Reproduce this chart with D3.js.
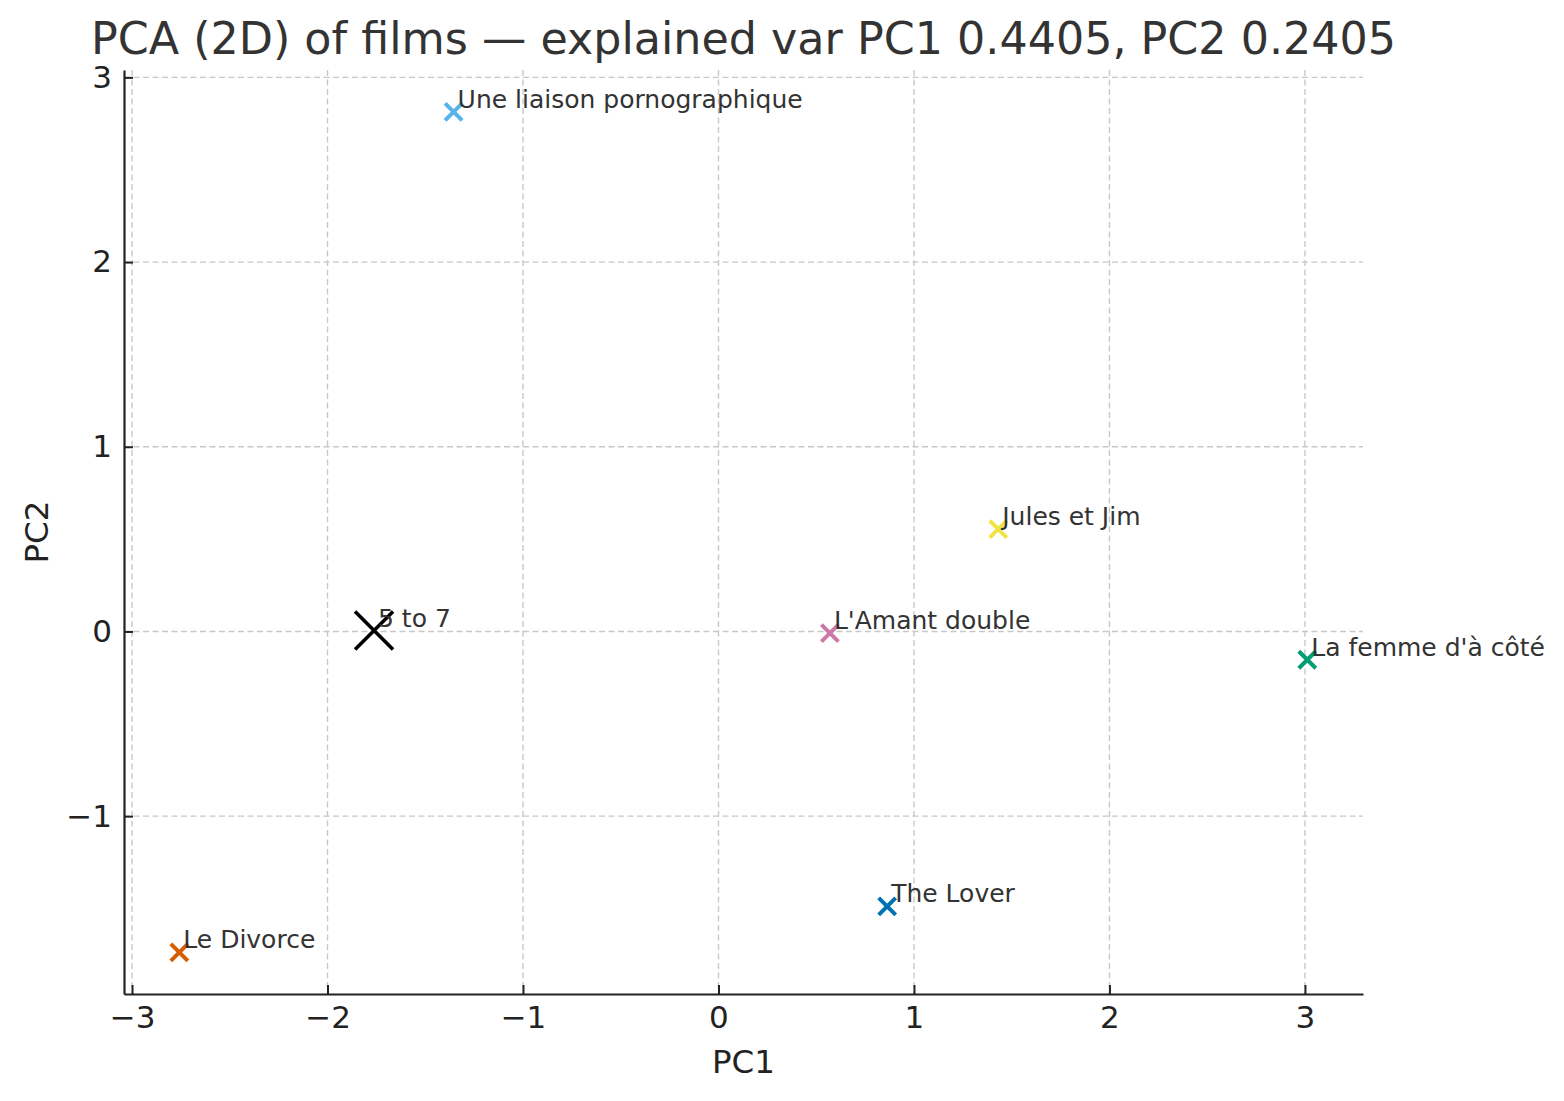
<!DOCTYPE html>
<html>
<head>
<meta charset="utf-8">
<script src="https://cdn.jsdelivr.net/npm/d3@7"></script>
<style>
  body { margin: 0; background: #fff; }
  text { font-family: "DejaVu Sans", sans-serif; }
</style>
</head>
<body>
<svg id="chart"></svg>
<script>
// film names and their PCA coordinates
var films = ["Une liaison pornographique", "Jules et Jim", "5 to 7", "L'Amant double", "La femme d'à côté", "The Lover", "Le Divorce"];
var pc1 = [-1.355, 1.431, -1.762, 0.570, 3.012, 0.863, -2.758];
var pc2 = [2.813, 0.554, 0.005, -0.009, -0.153, -1.489, -1.738];
var colors = ["#56B4E9", "#F0E442", "#000000", "#CC79A7", "#009E73", "#0072B2", "#D55E00"];
var highlighted = "5 to 7";
var xTicks = [-3, -2, -1, 0, 1, 2, 3];
var yTicks = [-1, 0, 1, 2, 3];
var title = "PCA (2D) of films — explained var PC1 0.4405, PC2 0.2405";

var W = 1564, H = 1101;
var margin = {top: 70, right: 201, bottom: 107, left: 124},
    width = W - margin.left - margin.right,
    height = H - margin.top - margin.bottom;

var svg = d3.select("#chart").attr("width", W).attr("height", H);
var g = svg.append("g").attr("transform", "translate(" + margin.left + "," + margin.top + ")");

var x = d3.scaleLinear().domain([-3.041, 3.297]).range([0, width]);
var y = d3.scaleLinear().domain([-1.963, 3.04]).range([height, 0]);

// grid
g.append("g").selectAll("line").data(xTicks).enter().append("line")
  .attr("x1", d => x(d)).attr("x2", d => x(d))
  .attr("y1", 0).attr("y2", height)
  .attr("stroke", "#c8c8c8").attr("stroke-width", 1.4).attr("stroke-dasharray", "6,3.5");
g.append("g").selectAll("line").data(yTicks).enter().append("line")
  .attr("y1", d => y(d)).attr("y2", d => y(d))
  .attr("x1", 0).attr("x2", width)
  .attr("stroke", "#c8c8c8").attr("stroke-width", 1.4).attr("stroke-dasharray", "6,3.5");

// axes (ticks pointing inward)
var fmt = d => d < 0 ? "\u2212" + Math.abs(d) : "" + d;
var xAxis = g.append("g").attr("transform", "translate(0," + height + ")")
  .call(d3.axisBottom(x).tickValues(xTicks).tickFormat(fmt).tickSize(-9).tickPadding(12).tickSizeOuter(0));
var yAxis = g.append("g")
  .call(d3.axisLeft(y).tickValues(yTicks).tickFormat(fmt).tickSize(-9).tickPadding(12).tickSizeOuter(0));
[xAxis, yAxis].forEach(function(a) {
  a.select(".domain").attr("stroke", "#222").attr("stroke-width", 2.2);
  a.selectAll(".tick line").attr("stroke", "#222").attr("stroke-width", 2);
  a.selectAll(".tick text").attr("fill", "#222").style("font-size", "31px").style("font-family", "DejaVu Sans");
});
xAxis.selectAll(".tick text").attr("dy", "0.71em");

// markers
var pts = films.map(function(f, i) { return {name: f, x: pc1[i], y: pc2[i], color: colors[i]}; });
var cross = function(s) { return "M" + (-s) + "," + (-s) + "L" + s + "," + s + "M" + (-s) + "," + s + "L" + s + "," + (-s); };

g.selectAll(".pt").data(pts).enter().append("path")
  .attr("class", "pt")
  .attr("transform", d => "translate(" + x(d.x) + "," + y(d.y) + ")")
  .attr("d", d => d.name === highlighted ? cross(19) : cross(8.5))
  .attr("fill", "none")
  .attr("stroke", d => d.color)
  .attr("stroke-width", d => d.name === highlighted ? 3.6 : 4);

g.selectAll(".lbl").data(pts).enter().append("text")
  .attr("class", "lbl")
  .attr("x", d => x(d.x) + 4)
  .attr("y", d => y(d.y) - 4)
  .attr("fill", "#333")
  .style("font-size", "25px")
  .text(d => d.name);

// titles
svg.append("text")
  .attr("x", margin.left + width / 2).attr("y", 54)
  .attr("text-anchor", "middle").attr("fill", "#333")
  .style("font-size", "44.4px")
  .text(title);

svg.append("text")
  .attr("x", margin.left + width / 2).attr("y", 1073)
  .attr("text-anchor", "middle").attr("fill", "#222")
  .style("font-size", "32.5px")
  .text("PC1");

svg.append("text")
  .attr("transform", "translate(48," + (margin.top + height / 2) + ")rotate(-90)")
  .attr("text-anchor", "middle").attr("fill", "#222")
  .style("font-size", "32.5px")
  .text("PC2");
</script>
</body>
</html>
